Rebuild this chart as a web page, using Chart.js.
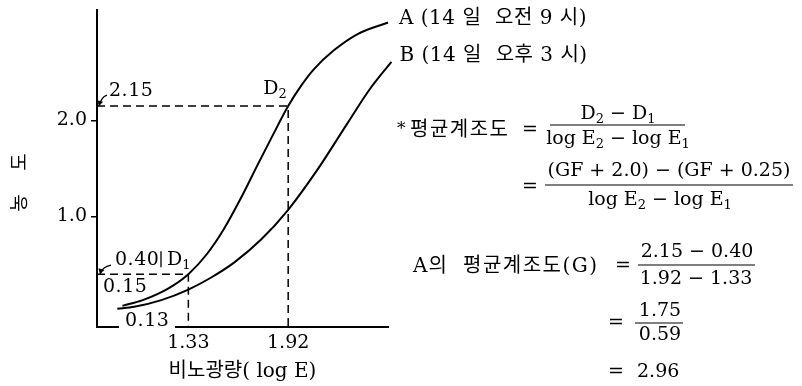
<!DOCTYPE html>
<html>
<head>
<meta charset="utf-8">
<script src="https://cdn.jsdelivr.net/npm/chart.js@4.4.1/dist/chart.umd.min.js"></script>
<style>
  html, body { margin: 0; padding: 0; background: #fff; }
  #wrap { width: 802px; height: 386px; }
</style>
</head>
<body>
<div id="wrap"><canvas id="myChart" width="802" height="386"></canvas></div>
<script>
// Characteristic curves (log E -> density)
const curveA_logE = [0.94, 1.06, 1.21, 1.33, 1.44, 1.54, 1.64, 1.74, 1.83, 1.92, 2.00, 2.07, 2.19, 2.33, 2.51];
const curveA_density = [0.07, 0.13, 0.25, 0.40, 0.61, 0.87, 1.19, 1.54, 1.85, 2.15, 2.37, 2.53, 2.73, 2.90, 3.02];
const curveB_logE = [0.91, 1.01, 1.17, 1.33, 1.46, 1.60, 1.76, 1.92, 2.09, 2.27, 2.40, 2.53];
const curveB_density = [0.04, 0.06, 0.13, 0.24, 0.36, 0.52, 0.76, 1.07, 1.48, 1.97, 2.32, 2.61];

const seriesNames = ['A (14 일  오전 9 시)', 'B (14 일  오후 3 시)'];

// marked readings on curve A
const logE1 = 1.33, logE2 = 1.92;
const D1 = 0.40, D2 = 2.15;

// axes
const xTicks = [1.33, 1.92];
const yTicks = [1.0, 2.0];
const xRange = [0.79, 2.51];
const yRange = [-0.15, 3.15];

const serif = '"DejaVu Serif", "Noto Sans CJK KR", serif';
const ink = '#000';

function toPoints(xs, ys) {
  return xs.map((x, i) => ({ x: x, y: ys[i] }));
}

function put(ctx, text, x, y, size, align, spacing) {
  ctx.font = size + 'px ' + serif;
  ctx.letterSpacing = (spacing || 0) + 'px';
  ctx.textAlign = align || 'left';
  ctx.textBaseline = 'middle';
  ctx.fillText(text, x, y);
  ctx.letterSpacing = '0px';
}

// text with subscripts, parts = [[text, isSub], ...]
function rich(ctx, parts, x, y, size, align) {
  const sub = Math.round(size * 0.68);
  let w = 0;
  parts.forEach(p => {
    ctx.font = (p[1] ? sub : size) + 'px ' + serif;
    w += ctx.measureText(p[0]).width;
  });
  let cx = align === 'center' ? x - w / 2 : x;
  ctx.textAlign = 'left';
  ctx.textBaseline = 'middle';
  parts.forEach(p => {
    ctx.font = (p[1] ? sub : size) + 'px ' + serif;
    ctx.fillText(p[0], cx, p[1] ? y + size * 0.3 : y);
    cx += ctx.measureText(p[0]).width;
  });
}

function hline(ctx, x1, x2, y) {
  ctx.beginPath();
  ctx.moveTo(x1, y);
  ctx.lineTo(x2, y);
  ctx.stroke();
}

function arrow(ctx, fx, fy, tx, ty) {
  ctx.beginPath();
  ctx.moveTo(fx, fy);
  ctx.quadraticCurveTo(tx + 2, fy + 2, tx, ty);
  ctx.stroke();
  const a = Math.atan2(ty - fy - 2, -2);
  ctx.beginPath();
  ctx.moveTo(tx, ty);
  ctx.lineTo(tx + 6 * Math.cos(a - 2.6), ty + 6 * Math.sin(a - 2.6));
  ctx.lineTo(tx + 6 * Math.cos(a + 2.6), ty + 6 * Math.sin(a + 2.6));
  ctx.closePath();
  ctx.fill();
}

const annotations = {
  id: 'annotations',
  beforeDraw(chart) {
    const ctx = chart.ctx;
    ctx.save();
    ctx.fillStyle = '#fff';
    ctx.fillRect(0, 0, chart.width, chart.height);
    ctx.restore();
  },
  afterDraw(chart) {
    const ctx = chart.ctx;
    const xs = chart.scales.x, ys = chart.scales.y;
    const px = v => xs.getPixelForValue(v);
    const py = v => ys.getPixelForValue(v);
    ctx.save();
    ctx.fillStyle = ink;
    ctx.strokeStyle = ink;
    ctx.lineWidth = 1.3;

    // series names at curve ends
    const endA = curveA_logE.length - 1, endB = curveB_logE.length - 1;
    put(ctx, seriesNames[0], px(curveA_logE[endA]) + 11, py(curveA_density[endA]) - 4, 20, 'left', 0.5);
    put(ctx, seriesNames[1], px(curveB_logE[endB]) + 8, py(curveB_density[endB]) - 6, 20, 'left', 0.5);

    // readings on the left
    put(ctx, '2.15', xs.left + 12, py(D2) - 15, 19, 'left', 0.5);
    arrow(ctx, xs.left + 10, py(D2) - 11, xs.left + 2, py(D2));
    rich(ctx, [['D'], ['2', true]], px(logE2) - 25, py(D2) - 17, 19);
    put(ctx, '0.40', xs.left + 18, py(D1) - 14, 19, 'left', 0.5);
    ctx.beginPath();
    ctx.moveTo(xs.left + 64, py(D1) - 23);
    ctx.lineTo(xs.left + 64, py(D1) - 7);
    ctx.stroke();
    rich(ctx, [['D'], ['1', true]], xs.left + 70, py(D1) - 14, 19);
    arrow(ctx, xs.left + 14, py(D1) - 9, xs.left + 3, py(D1));
    put(ctx, '0.15', xs.left + 6, py(D1) + 13, 19, 'left', 0.5);

    // gap in the x axis behind 0.13
    ctx.fillStyle = '#fff';
    ctx.fillRect(xs.left + 22, ys.bottom - 3, 56, 7);
    ctx.fillStyle = ink;
    put(ctx, '0.13', xs.left + 28, ys.bottom - 6, 19, 'left', 0.5);

    // y axis title
    ctx.font = '19px "Noto Sans CJK KR"';
    ctx.textAlign = 'center';
    ctx.textBaseline = 'middle';
    [['농', 203], ['도', 162]].forEach(c => {
      ctx.save();
      ctx.translate(19, c[1]);
      ctx.rotate(-Math.PI / 2);
      ctx.fillText(c[0], 0, 0);
      ctx.restore();
    });

    // formulas
    ctx.lineWidth = 1.2;
    put(ctx, '*', 397, 130, 17);
    put(ctx, '평균계조도', 410, 131, 20, 'left', 1.5);
    put(ctx, '=', 522, 130, 19);
    rich(ctx, [['D'], ['2', true], [' − D'], ['1', true]], 618, 114, 19, 'center');
    hline(ctx, 550, 685, 125);
    rich(ctx, [['log E'], ['2', true], [' − log E'], ['1', true]], 618, 139, 19, 'center');

    put(ctx, '=', 522, 187, 19);
    put(ctx, '(GF + 2.0) − (GF + 0.25)', 669, 171, 19, 'center');
    hline(ctx, 545, 793, 185);
    rich(ctx, [['log E'], ['2', true], [' − log E'], ['1', true]], 660, 200, 19, 'center');

    put(ctx, 'A의', 413, 267, 20, 'left', 1);
    put(ctx, '평균계조도(G)', 463, 267, 20, 'left', 1.5);
    put(ctx, '=', 615, 266, 19);
    put(ctx, '2.15 − 0.40', 697, 252, 19, 'center');
    hline(ctx, 638, 755, 265);
    put(ctx, '1.92 − 1.33', 696, 279, 19, 'center');

    put(ctx, '=', 608, 323, 19);
    put(ctx, '1.75', 660, 311, 19, 'center');
    hline(ctx, 635, 683, 323);
    put(ctx, '0.59', 660, 335, 19, 'center');

    put(ctx, '=', 608, 372, 19);
    put(ctx, '2.96', 637, 372, 19);
    ctx.restore();
  }
};

const data = {
  datasets: [
    {
      label: 'A',
      data: toPoints(curveA_logE, curveA_density),
      borderColor: ink,
      borderWidth: 2,
      cubicInterpolationMode: 'monotone',
      pointRadius: 0,
      clip: false
    },
    {
      label: 'B',
      data: toPoints(curveB_logE, curveB_density),
      borderColor: ink,
      borderWidth: 2,
      cubicInterpolationMode: 'monotone',
      pointRadius: 0,
      clip: false
    },
    {
      label: 'D2 guide',
      data: [{ x: xRange[0], y: D2 }, { x: logE2, y: D2 }, { x: logE2, y: yRange[0] }],
      borderColor: ink,
      borderWidth: 1.5,
      borderDash: [8, 5],
      pointRadius: 0,
      tension: 0
    },
    {
      label: 'D1 guide',
      data: [{ x: xRange[0], y: D1 }, { x: logE1, y: D1 }, { x: logE1, y: yRange[0] }],
      borderColor: ink,
      borderWidth: 1.5,
      borderDash: [8, 5],
      pointRadius: 0,
      tension: 0
    }
  ]
};

const config = {
  type: 'line',
  data: data,
  plugins: [annotations],
  options: {
    responsive: false,
    animation: false,
    devicePixelRatio: 1,
    layout: { padding: { left: 0, top: 10, right: 414, bottom: 0 } },
    plugins: { legend: { display: false }, tooltip: { enabled: false } },
    scales: {
      x: {
        type: 'linear',
        min: xRange[0],
        max: xRange[1],
        afterBuildTicks: s => { s.ticks = xTicks.map(v => ({ value: v })); },
        afterFit: s => { s.height = 59; s.paddingLeft = 0; s.paddingRight = 0; },
        ticks: {
          color: ink,
          padding: 5,
          maxRotation: 0,
          font: { family: serif, size: 19 },
          callback: v => v.toFixed(2)
        },
        grid: { display: false, drawTicks: false },
        border: { display: true, color: ink, width: 2 },
        title: {
          display: true,
          text: '비노광량( log E)',
          color: ink,
          font: { family: serif, size: 20 },
          padding: { top: 0, bottom: 2 }
        }
      },
      y: {
        min: yRange[0],
        max: yRange[1],
        afterBuildTicks: s => { s.ticks = yTicks.map(v => ({ value: v })); },
        afterFit: s => { s.width = 97; s.paddingTop = 0; s.paddingBottom = 0; },
        ticks: {
          color: ink,
          padding: 4,
          font: { family: serif, size: 19 },
          callback: v => v.toFixed(1)
        },
        grid: { display: true, drawOnChartArea: false, drawTicks: true, tickLength: 6, color: ink, lineWidth: 1.5 },
        border: { display: true, color: ink, width: 2 }
      }
    }
  }
};

const myChart = new Chart(document.getElementById('myChart'), config);
</script>
</body>
</html>
